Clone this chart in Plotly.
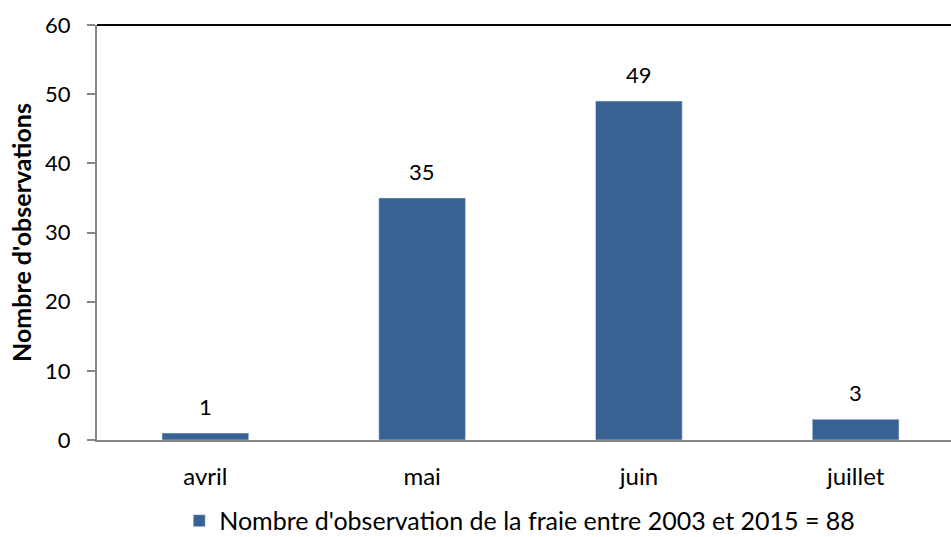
import plotly.graph_objs as go

months = ['avril', 'mai', 'juin', 'juillet']
observations = [1, 35, 49, 3]
series_name = "Nombre d'observation de la fraie entre 2003 et 2015 = 88"
y_ticks = [0, 10, 20, 30, 40, 50, 60]

font_family = 'Lato, "Liberation Sans", sans-serif'
bar_color = '#386293'

trace = go.Bar(
    name=series_name,
    x=months,
    y=observations,
    width=0.4,
    marker=dict(color=bar_color),
    showlegend=True,
)

annotations = []
for m, v in zip(months, observations):
    annotations.append(dict(
        x=m, y=v, text=str(v), showarrow=False,
        yanchor='bottom', yshift=11,
        font=dict(size=22, color='#000000', family=font_family),
    ))

layout = go.Layout(
    width=951,
    height=537,
    paper_bgcolor='white',
    plot_bgcolor='white',
    margin=dict(l=97, r=0, t=25, b=97),
    font=dict(family=font_family, size=22, color='#000000'),
    bargap=0.6,
    xaxis=dict(
        range=[-0.5, 3.44],  # original chart is cropped on the right
        showline=True,
        linecolor='#868686',
        linewidth=2,
        ticks='',
        ticklabelstandoff=14,
        tickfont=dict(size=24),
        showgrid=False,
        automargin=False,
    ),
    yaxis=dict(
        range=[0, 60],
        tickvals=y_ticks,
        showline=True,
        linecolor='#868686',
        linewidth=2,
        ticks='outside',
        ticklen=8,
        tickcolor='#868686',
        tickwidth=2,
        ticklabelstandoff=12,
        showgrid=False,
        zeroline=False,
        tickfont=dict(size=22),
        automargin=False,
        title=dict(text="<b>Nombre d'observations</b>", font=dict(size=25), standoff=6),
    ),
    legend=dict(
        orientation='h',
        x=0.495,
        xanchor='center',
        xref='paper',
        y=0.03,
        yanchor='middle',
        yref='container',
        font=dict(size=25),
        itemwidth=30,
    ),
    shapes=[dict(
        type='line', xref='paper', yref='paper',
        x0=0, x1=1, y0=1, y1=1,
        line=dict(color='#000000', width=2),
    )],
    annotations=annotations,
)

fig = go.Figure(data=[trace], layout=layout)
# drop the default body margin so the figure fills the window exactly
fig.write_html(
    "out.html",
    config={'displayModeBar': False},
    post_script="document.body.style.margin='0';document.body.style.overflow='hidden';",
)
